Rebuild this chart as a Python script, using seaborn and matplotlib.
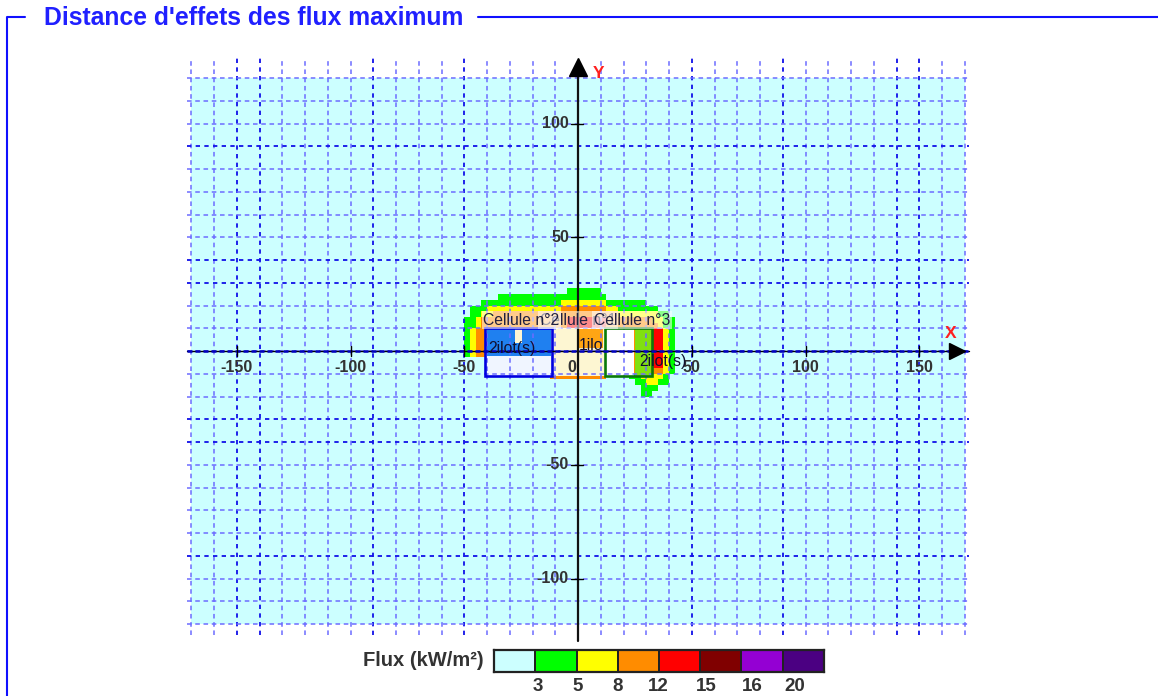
import numpy as np
import matplotlib
matplotlib.use("Agg")
import matplotlib.pyplot as plt
from matplotlib.colors import ListedColormap
from matplotlib.lines import Line2D
from matplotlib.patches import Rectangle
import seaborn as sns

# couleurs de la legende et seuils de flux
flux_colors = ["#ccffff", "#00ff00", "#ffff00", "#ff8c00", "#ff0000", "#800000", "#9400d3", "#4b0082"]
flux_seuils = ["3", "5", "8", "12", "15", "16", "20"]
seuils_pos = [1.07, 2.04, 3.0, 3.98, 5.15, 6.25, 7.3]

# zones de flux : (niveau, nb de mailles de 2.5 m), ligne par ligne
flux_runs = [
    [], [],
    [(0, 20), (1, 6)],
    [(0, 8), (1, 19)],
    [(0, 5), (1, 14), (2, 8), (1, 7)],
    [(0, 3), (1, 3), (2, 13), (3, 8), (2, 2), (1, 7)],
    [(0, 3), (1, 2), (2, 2), (3, 22), (2, 7), (1, 2)],
    [(0, 2), (1, 2), (2, 1), (3, 15), (4, 7), (3, 8), (2, 2), (1, 2)],
    [(0, 2), (1, 2), (2, 1), (3, 15), (4, 7), (3, 9), (2, 1), (1, 2)],
    [(0, 2), (1, 1), (2, 1), (3, 31), (4, 2), (2, 1), (1, 1)],
    [(0, 2), (1, 1), (2, 1), (3, 31), (4, 2), (2, 1), (1, 1)],
    [(0, 2), (1, 1), (2, 1), (3, 31), (4, 2), (2, 1), (1, 1)],
    [(0, 2), (1, 1), (2, 1), (3, 31), (4, 2), (2, 1), (1, 1)],
    [(0, 2), (1, 1), (2, 1), (3, 31), (4, 2), (2, 1), (1, 1)],
    [(0, 6), (3, 29), (4, 2), (2, 1), (1, 1)],
    [(0, 6), (3, 29), (4, 2), (2, 1), (1, 1)],
    [(0, 6), (3, 31), (2, 1), (1, 1)],
    [(0, 17), (3, 10), (0, 4), (1, 2), (2, 4), (1, 1)],
    [(0, 32), (1, 2), (2, 2), (1, 2)],
    [(0, 33), (1, 3)],
    [(0, 33), (1, 2)],
]

# remplissage et contour des cellules
fill_x = [-41, 0, -40, -24.6, -40, -41, 11.9, 25]
fill_y = [-11, 1.3, -2.2, -2.2, -2.2, -11, -11, -11]
fill_w = [53, 11, 12.5, 12.6, 28, 29.6, 12.6, 7]
fill_h = [21, 8.2, 12.2, 12.2, 5.7, 8.8, 21, 21]
fill_colors = ["#fdf6d2", "#ffa514", "#1f80f0", "#1f80f0", "#1f80f0", "#f0f5ff", "#ffffff", "#80e010"]
cell_x = [-41, 11.9]
cell_w = [29.6, 20.6]
cell_colors = ["#0000e0", "#0a7a0a"]

cellule_noms = ["Cellule n°1", "Cellule n°2", "Cellule n°3"]
cellule_x = [0, -25, 23.7]
ilot_noms = ["2ilot(s)", "1ilo", "2ilot(s)"]
ilot_x = [-29, 5.7, 37.4]
ilot_y = [1, 2.6, -4.4]

x_ticks = [-150, -100, -50, 50, 100, 150]
y_ticks = [100, 50, -50, -100]
grid_x = np.arange(-170, 171, 10)
grid_y = np.arange(-120, 121, 10)
dark_x = [-150, -140, -90, -50, 50, 90, 140, 150]
dark_y = [-90, -40, -30, 30, 40, 90]

W, H = 1158, 696
X0, Y0, S = 578, 351, 2.275

sns.set_style("white")
plt.rcParams["font.family"] = ["Liberation Sans", "DejaVu Sans"]

fig = plt.figure(figsize=(W / 100, H / 100), dpi=100)

# fond : carte de flux en heatmap
grid = np.zeros((96, 136))
for r, runs in enumerate(flux_runs):
    if runs:
        row = np.repeat([n for n, _ in runs], [c for _, c in runs])
        grid[35 + r, 46:46 + len(row)] = row

cmap = ListedColormap(flux_colors)
ax_heat = fig.add_axes([(X0 - 170 * S) / W, (H - Y0 - 120 * S) / H, 340 * S / W, 240 * S / H])
sns.heatmap(grid, ax=ax_heat, cmap=cmap, vmin=-0.5, vmax=7.5, cbar=False,
            xticklabels=False, yticklabels=False)

# axe principal, unites en metres
ax = fig.add_axes([0, 0, 1, 1], facecolor="none")
ax.set_xlim(-X0 / S, (W - X0) / S)
ax.set_ylim((Y0 - H) / S, Y0 / S)
ax.axis("off")

for x, y, w, h, c in zip(fill_x, fill_y, fill_w, fill_h, fill_colors):
    ax.add_patch(Rectangle((x, y), w, h, facecolor=c, edgecolor="none", zorder=1))

# quadrillage
dash = (0, (3.0, 2.4))
dash_fonce = (0, (2.4, 2.4))
for x in grid_x:
    dark = x in dark_x
    ax.plot([x, x], [-125, 129], color="#1010e8" if dark else "#6c6cff", lw=1.3 if dark else 1.1,
            ls=dash_fonce if dark else dash, zorder=2)
for y in grid_y:
    dark = y in dark_y
    ax.plot([-172, 172], [y, y], color="#1010e8" if dark else "#6c6cff", lw=1.3 if dark else 1.1,
            ls=dash_fonce if dark else dash, zorder=2)

for x, w, c in zip(cell_x, cell_w, cell_colors):
    ax.add_patch(Rectangle((x, -11), w, 21, facecolor="none", edgecolor=c, lw=1.9, zorder=3))

# axes X et Y
ax.plot([-172, 172], [0, 0], color="black", lw=1.0, zorder=4)
ax.plot([-172, 172], [0, 0], color="#0000c0", lw=1.8, ls=(0, (2.0, 1.2)), zorder=4)
ax.plot([0, 0], [-127.5, 125], color="#111111", lw=1.6, zorder=4)
ax.plot([0], [124.8], marker="^", ms=13, color="black", zorder=5)
ax.plot([166.6], [0], marker=">", ms=11, color="black", zorder=5)
ax.text(9, 122, "Y", color="#ff2020", fontsize=12.5, fontweight="bold", ha="center", va="center", zorder=6)
ax.text(164, 7.5, "X", color="#ff2020", fontsize=12.5, fontweight="bold", ha="center", va="center", zorder=6)

for x in x_ticks:
    ax.plot([x, x], [-2, 2], color="black", lw=1, zorder=4)
    ax.text(x, -7.3, str(x), color="#333333", fontsize=11.5, fontweight="bold", ha="center", va="center", zorder=6)
ax.text(-2.6, -7.3, "0", color="#333333", fontsize=11.5, fontweight="bold", ha="center", va="center", zorder=6)
for y in y_ticks:
    ax.plot([-3, 2], [y, y], color="black", lw=1, zorder=4)
    ax.text(-4, y, str(y), color="#333333", fontsize=11.5, fontweight="bold", ha="right", va="center", zorder=6)

# etiquettes des cellules
for i, (nom, x) in enumerate(zip(cellule_noms, cellule_x)):
    ax.text(x, 13.6, nom, color="#202040", fontsize=11.3, ha="center", va="center", zorder=7 + i,
            bbox=dict(facecolor="white", alpha=0.55, edgecolor="none", pad=1))
for nom, x, y in zip(ilot_noms, ilot_x, ilot_y):
    ax.text(x, y, nom, color="#101030", fontsize=11.3, ha="center", va="center", zorder=11)

# titre et cadre
fig.text(44 / W, 1 - 18 / H, "Distance d'effets des flux maximum", color="#2020ff", fontsize=17.8,
         fontweight="bold", ha="left", va="center")
fig.add_artist(Line2D([25 / W, 6.5 / W, 6.5 / W], [1 - 17 / H, 1 - 17 / H, 0], color="#1010ff", lw=1.5))
fig.add_artist(Line2D([478 / W, 1], [1 - 17 / H, 1 - 17 / H], color="#1010ff", lw=1.5))

# legende
ax_leg = fig.add_axes([494 / W, 1 - 672 / H, 330 / W, 22 / H])
sns.heatmap([list(range(8))], ax=ax_leg, cmap=cmap, vmin=-0.5, vmax=7.5, cbar=False,
            linewidths=1.2, linecolor="#222222", yticklabels=False)
for sp in ax_leg.spines.values():
    sp.set_visible(True)
    sp.set_color("#222222")
    sp.set_linewidth(1.6)
ax_leg.set_xticks(seuils_pos)
ax_leg.set_xticklabels(flux_seuils, rotation=0, fontsize=13.5, fontweight="bold", color="#333333")
ax_leg.tick_params(axis="x", length=0, pad=4)
fig.text(484 / W, 1 - 660 / H, "Flux (kW/m²)", color="#333333", fontsize=14.5, fontweight="bold",
         ha="right", va="center")

fig.savefig("out.png", dpi=100)
